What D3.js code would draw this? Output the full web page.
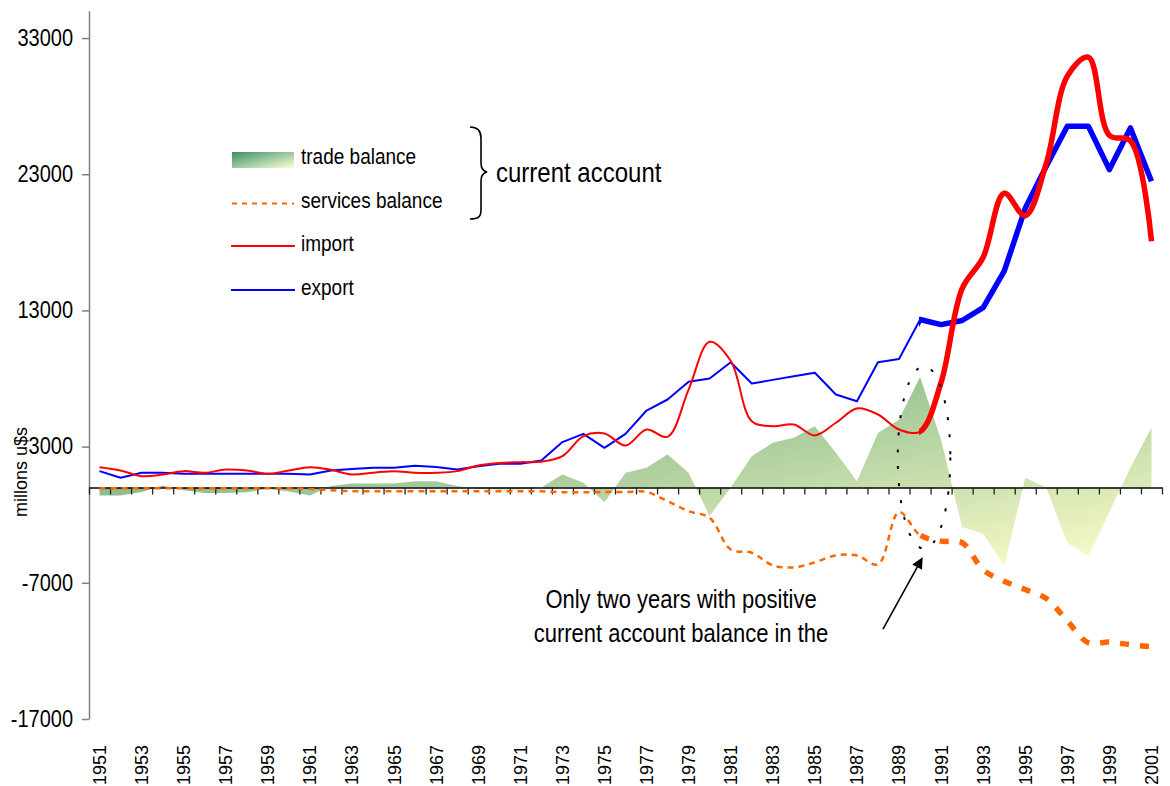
<!DOCTYPE html>
<html><head><meta charset="utf-8">
<script src="https://cdn.jsdelivr.net/npm/d3@7"></script>
<style>
body{margin:0;background:#fff;}
text{font-family:"Liberation Sans",Arial,sans-serif;fill:#000;}
</style></head><body>
<svg id="c" width="1170" height="786"></svg>
<script>
// ---------- data (millions u$s) ----------
const years = d3.range(1951, 2002);
const exportV = [1200,710,1080,1080,1000,1000,1000,1000,1000,1000,
  950,1250,1350,1450,1450,1600,1500,1320,1560,1740,
  1740,1980,3330,3940,2910,3940,5650,6460,7760,8000,
  9200,7630,7900,8160,8420,6830,6330,9200,9440,12330,
  11960,12260,13200,15880,20500,23580,26520,26520,23340,26400,22480];
const importV = [1490,1250,830,950,1200,1080,1320,1250,1000,1250,
  1490,1300,950,1080,1200,1080,1080,1200,1610,1800,
  1860,1890,2300,3770,3960,3080,4260,3720,7190,10700,
  9300,4870,4500,4620,3820,4750,5800,5360,4260,4110,
  7710,14600,16900,21600,19950,23800,30200,31600,25850,25450,18080];
const servicesV = [-60,-60,-60,-60,-60,-60,-60,-60,-60,-60,
  -120,-200,-280,-280,-280,-280,-280,-280,-280,-280,
  -280,-280,-350,-350,-330,-330,-330,-1000,-1740,-2230,
  -4550,-4790,-5720,-5870,-5500,-4990,-4990,-5650,-1800,-3500,
  -3940,-4060,-6050,-6880,-7490,-8150,-9800,-11400,-11350,-11550,-11700];
const tradeV = [-590,-590,-340,150,-200,-400,-400,-350,-100,-300,
  -590,100,290,290,290,460,460,100,-100,-150,
  -150,0,950,350,-1080,1080,1450,2420,1080,-2100,
  0,2300,3280,3650,4500,2550,460,4000,4990,8120,
  3500,-2900,-3400,-5770,710,0,-4060,-5040,-1800,1470,4380];
const yTicks = [-17000,-7000,3000,13000,23000,33000];
const yearLabels = years.filter(v => (v - 1951) % 2 === 0);
const legendLabels = ["trade balance","services balance","import","export"];
const splitYear = 1990;
const noteLines = ["Only two years with positive","current account balance in the"];

// ---------- setup ----------
const W = 1170, H = 786, SY = 1.15;
const svg = d3.select("#c");
const x = d3.scaleBand().domain(years).range([89, 1162]).padding(0);
const xc = d => x(d) + x.bandwidth() / 2;
const xl = d3.scaleLinear().domain([1950.5, 2001.5]).range([89, 1162]);
const y = d3.scaleLinear().domain([-17000, 35000]).range([719, 10.8]);

const defs = svg.append("defs");
function grad(id, c0, c1) {
  const g = defs.append("linearGradient").attr("id", id)
    .attr("x1", 0).attr("y1", 0).attr("x2", 1).attr("y2", 1);
  g.append("stop").attr("offset", 0).attr("stop-color", c0);
  g.append("stop").attr("offset", 1).attr("stop-color", c1);
}
grad("tradeGrad", "#5c9e70", "#ffffcc");
grad("legGrad", "#3a9066", "#ffffd8");
defs.append("clipPath").attr("id", "clipThin").append("rect")
  .attr("x", 0).attr("y", 0).attr("width", xc(splitYear) - 1).attr("height", H);
defs.append("clipPath").attr("id", "clipThick").append("rect")
  .attr("x", xc(splitYear) - 1).attr("y", 0).attr("width", W).attr("height", H);
const mk = defs.append("marker").attr("id", "arr").attr("viewBox", "0 0 10 10")
  .attr("refX", 9).attr("refY", 5).attr("markerWidth", 9).attr("markerHeight", 7)
  .attr("markerUnits", "strokeWidth").attr("orient", "auto");
mk.append("path").attr("d", "M0,0 L10,5 L0,10 Z").attr("fill", "#000");

// ---------- trade balance area ----------
const tradeData = years.map((yr, i) => ({yr, v: tradeV[i]}));
svg.append("path").datum(tradeData)
  .attr("d", d3.area().x(d => xc(d.yr)).y0(y(0)).y1(d => y(d.v)))
  .attr("fill", "url(#tradeGrad)");

// ---------- axes ----------
const yAx = svg.append("g").attr("transform", "translate(89,0)")
  .call(d3.axisLeft(y).tickValues(yTicks).tickSize(7).tickPadding(9).tickSizeOuter(0).tickFormat(d => String(d)));
yAx.select(".domain").attr("stroke", "#808080").attr("stroke-width", 1.5);
yAx.selectAll(".tick line").attr("stroke", "#808080").attr("stroke-width", 1.5);
yAx.selectAll("text").attr("font-size", 20).attr("font-family", "Liberation Sans, Arial, sans-serif")
  .attr("transform", `scale(1,${SY})`);

const xAx = svg.append("g").attr("transform", `translate(0,${y(0)})`)
  .call(d3.axisBottom(xl).tickValues(d3.range(1950.5, 2002, 1)).tickSize(7).tickSizeOuter(0).tickFormat(""));
xAx.select(".domain").attr("stroke", "#000").attr("stroke-width", 1.5);
xAx.selectAll(".tick line").attr("stroke", "#222").attr("stroke-width", 1.3);

const xLab = svg.append("g").attr("transform", "translate(0,745)")
  .call(d3.axisBottom(x).tickValues(yearLabels).tickSize(0));
xLab.select(".domain").remove();
xLab.selectAll("text").attr("font-size", 18).attr("font-family", "Liberation Sans, Arial, sans-serif")
  .attr("text-anchor", "end").attr("x", 0).attr("y", 0).attr("dy", "0.36em")
  .attr("transform", "rotate(-90)");

svg.append("text").attr("transform", "translate(27,472) rotate(-90)")
  .attr("text-anchor", "middle").attr("font-size", 18).text("millons u$s");

// ---------- lines ----------
function drawSeries(vals, color, curve, wThin, wThick, dThin, dThick) {
  const data = years.map((yr, i) => ({yr, v: vals[i]}));
  const ln = d3.line().x(d => xc(d.yr)).y(d => y(d.v)).curve(curve);
  svg.append("path").datum(data).attr("d", ln).attr("clip-path", "url(#clipThin)")
    .attr("fill", "none").attr("stroke", color).attr("stroke-width", wThin)
    .attr("stroke-linejoin", "round").attr("stroke-dasharray", dThin);
  svg.append("path").datum(data).attr("d", ln).attr("clip-path", "url(#clipThick)")
    .attr("fill", "none").attr("stroke", color).attr("stroke-width", wThick)
    .attr("stroke-linejoin", "round").attr("stroke-dasharray", dThick);
}
drawSeries(servicesV, "#ff6600", d3.curveCatmullRom.alpha(0.5), 2.5, 5.5, "6,5", "9,11");
drawSeries(exportV, "#0000ff", d3.curveLinear, 2, 5.5, null, null);
drawSeries(importV, "#ff0000", d3.curveCatmullRom.alpha(0.5), 2, 5.5, null, null);

// ---------- annotation ----------
svg.append("ellipse").attr("cx", xc(1990) + 4).attr("cy", (y(8900) + y(-4500)) / 2)
  .attr("rx", x.bandwidth() * 1.25).attr("ry", (y(-4500) - y(8900)) / 2)
  .attr("fill", "none").attr("stroke", "#000").attr("stroke-width", 2)
  .attr("stroke-dasharray", "3,14");
svg.append("line").attr("x1", xc(1988) + 5).attr("y1", y(-10400))
  .attr("x2", xc(1990) + 2).attr("y2", y(-5200))
  .attr("stroke", "#000").attr("stroke-width", 1.6).attr("marker-end", "url(#arr)");
noteLines.forEach((t, i) => {
  svg.append("text").attr("transform", `translate(681,${608 + i * 33.7}) scale(1,${SY})`)
    .attr("text-anchor", "middle").attr("font-size", 22).text(t);
});

// ---------- legend ----------
const legY = [164, 207.5, 251, 294.5];
const leg = svg.append("g");
leg.append("rect").attr("x", 232).attr("y", 152).attr("width", 62).attr("height", 16)
  .attr("fill", "url(#legGrad)");
leg.append("line").attr("x1", 232).attr("x2", 294).attr("y1", 203.5).attr("y2", 203.5)
  .attr("stroke", "#ff6600").attr("stroke-width", 2).attr("stroke-dasharray", "5,5");
leg.append("line").attr("x1", 231).attr("x2", 295).attr("y1", 246).attr("y2", 246)
  .attr("stroke", "#ff0000").attr("stroke-width", 2);
leg.append("line").attr("x1", 231).attr("x2", 295).attr("y1", 290).attr("y2", 290)
  .attr("stroke", "#0000ff").attr("stroke-width", 2);
legendLabels.forEach((t, i) => {
  leg.append("text").attr("transform", `translate(301,${legY[i]}) scale(1,${SY})`)
    .attr("font-size", 19).text(t);
});
leg.append("path")
  .attr("d", "M470,127 C478,127 481,131 481,138 L481,163 C481,168 483,171 487,172 C483,173 481,176 481,181 L481,210 C481,217 478,219 470,219")
  .attr("fill", "none").attr("stroke", "#000").attr("stroke-width", 1.6);
leg.append("text").attr("transform", `translate(496,181.5) scale(1,${SY})`)
  .attr("font-size", 24).text("current account");
</script>
</body></html>
